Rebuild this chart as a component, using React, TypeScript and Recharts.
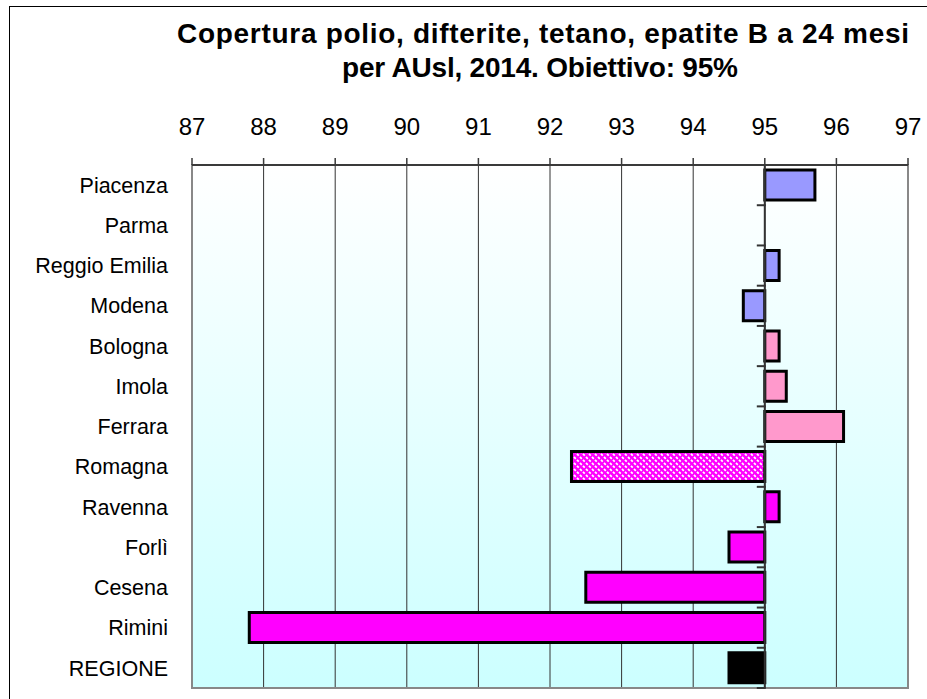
import { BarChart, Bar, XAxis, YAxis, CartesianGrid, ReferenceLine, ReferenceArea, Cell } from 'recharts';

const areas = ['Piacenza', 'Parma', 'Reggio Emilia', 'Modena', 'Bologna', 'Imola', 'Ferrara', 'Romagna', 'Ravenna', 'Forlì', 'Cesena', 'Rimini', 'REGIONE'];
const coverage: (number | null)[] = [95.7, null, 95.2, 94.7, 95.2, 95.3, 96.1, 92.3, 95.2, 94.5, 92.5, 87.8, 94.5];
const barColors = ['#9999FF', '#9999FF', '#9999FF', '#9999FF', '#FF99CC', '#FF99CC', '#FF99CC', 'url(#romagnaHatch)', '#FF00FF', '#FF00FF', '#FF00FF', '#FF00FF', '#000000'];
const xTicks = [87, 88, 89, 90, 91, 92, 93, 94, 95, 96, 97];
const target = 95;

const data = areas.map((name, i) => ({ name, value: coverage[i] }));

const font = '"Liberation Sans", Arial, sans-serif';

// asse delle categorie posizionato sul 95, con le tacche tra una categoria e l'altra
const TargetAxis = (props: any) => {
  const { x1, y1, x2, y2 } = props;
  const n = areas.length;
  const step = (y2 - y1) / n;
  const ticks = [];
  for (let i = 0; i <= n; i++) {
    const y = y1 + i * step;
    ticks.push(<line key={i} x1={x1 - 8} x2={x1 + 1} y1={y} y2={y} stroke="#333" strokeWidth={2} />);
  }
  return (
    <g>
      <line x1={x1} y1={y1} x2={x2} y2={y2} stroke="#333" strokeWidth={2} />
      {ticks}
    </g>
  );
};

export default function App() {
  return (
    <div style={{ position: 'absolute', left: 9, top: 6, width: 917, height: 692, borderTop: '1px solid #000', borderLeft: '1px solid #000', fontFamily: font }}>
      <svg width={0} height={0} style={{ position: 'absolute' }}>
        <defs>
          <linearGradient id="plotBg" x1="0" y1="0" x2="0" y2="1">
            <stop offset="0%" stopColor="#FFFFFF" />
            <stop offset="100%" stopColor="#CCFFFF" />
          </linearGradient>
          <pattern id="romagnaHatch" width="6" height="6" patternUnits="userSpaceOnUse">
            <rect width="6" height="6" fill="#FF00FF" />
            <path d="M0,0 L6,6 M-3,3 L3,9 M3,-3 L9,3" stroke="#FFFFFF" strokeWidth={1.8} strokeDasharray="2.5 1.7" />
          </pattern>
        </defs>
      </svg>
      <BarChart
        width={916}
        height={691}
        data={data}
        layout="vertical"
        margin={{ top: 98, right: 18, bottom: 10, left: 2 }}
      >
        <CartesianGrid horizontal={false} stroke="#333" fill="url(#plotBg)" fillOpacity={1} />
        <XAxis
          type="number"
          orientation="top"
          domain={[87, 97]}
          ticks={xTicks}
          allowDataOverflow
          height={60}
          tickSize={7}
          tickMargin={23}
          axisLine={{ stroke: '#3a3a3a', strokeWidth: 2 }}
          tickLine={{ stroke: '#3a3a3a', strokeWidth: 1.5 }}
          tick={{ fill: '#000', fontSize: 24, fontFamily: font }}
        />
        <YAxis
          type="category"
          dataKey="name"
          width={180}
          axisLine={false}
          tickLine={false}
          tickSize={0}
          tickMargin={24}
          interval={0}
          tick={{ fill: '#000', fontSize: 21.5, fontFamily: font }}
        />
        <ReferenceArea x1={87} x2={97} fill="none" stroke="#888" strokeWidth={2} />
        <Bar
          dataKey={(d: any) => (d.value == null ? null : [Math.min(target, d.value), Math.max(target, d.value)])}
          barSize={30}
          stroke="#000"
          strokeWidth={3}
          isAnimationActive={false}
        >
          {data.map((d, i) => (
            <Cell key={d.name} fill={barColors[i]} />
          ))}
        </Bar>
        <ReferenceLine x={target} shape={TargetAxis} />
      </BarChart>
      <svg width={916} height={100} style={{ position: 'absolute', left: 0, top: 0, pointerEvents: 'none' }}>
        <text x={533} y={36} textAnchor="middle" fontFamily={font} fontWeight="bold" fontSize={28} textLength={732} fill="#000">
          Copertura polio, difterite, tetano, epatite B a 24 mesi
        </text>
        <text x={530} y={70} textAnchor="middle" fontFamily={font} fontWeight="bold" fontSize={28} textLength={396} fill="#000">
          per AUsl, 2014. Obiettivo: 95%
        </text>
      </svg>
    </div>
  );
}
